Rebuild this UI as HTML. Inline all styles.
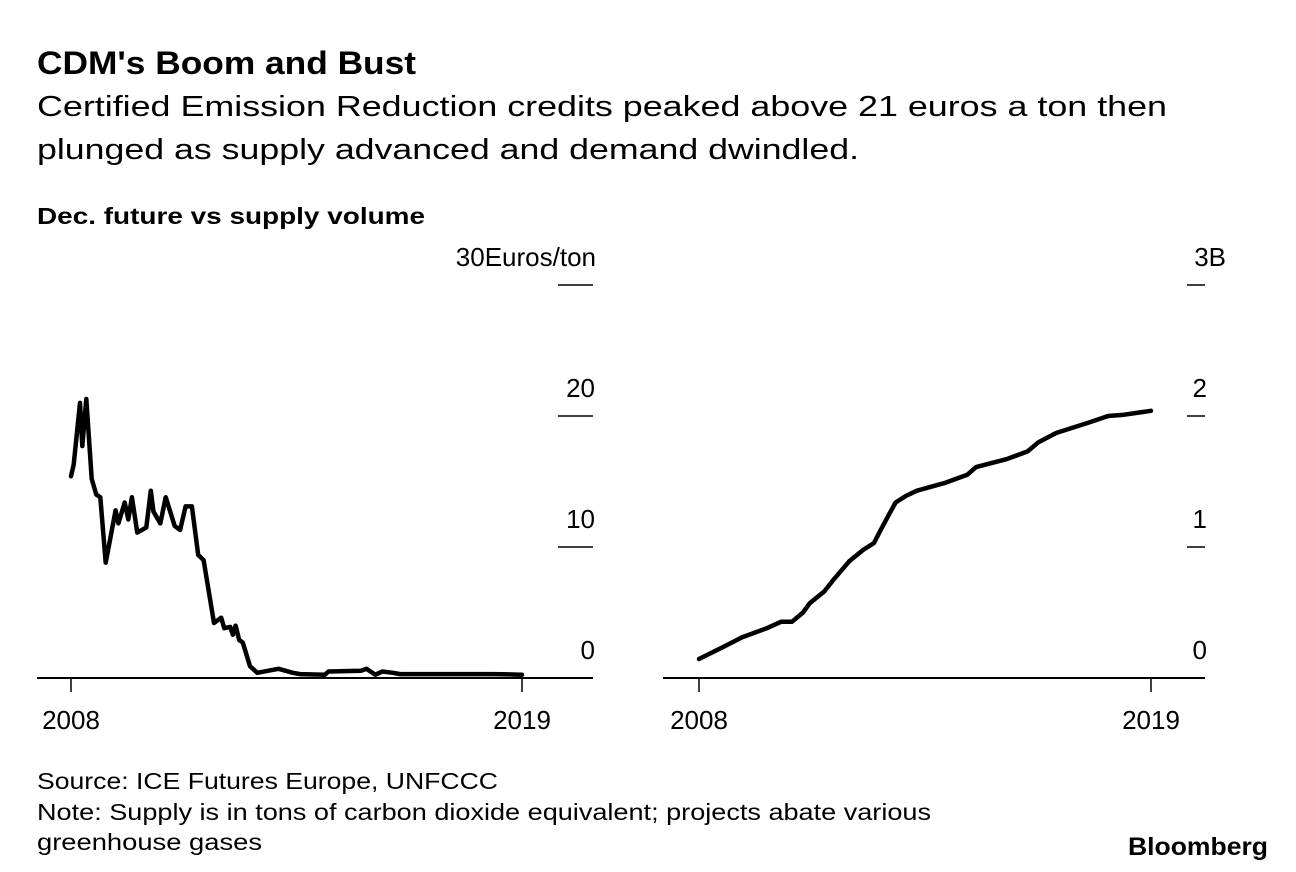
<!DOCTYPE html>
<html><head><meta charset="utf-8">
<style>
html,body{margin:0;padding:0;background:#fff;}
svg{display:block;font-family:"Liberation Sans",sans-serif;}
</style></head>
<body>
<svg id="chart" width="1296" height="872" viewBox="0 0 1296 872" xmlns="http://www.w3.org/2000/svg">
<rect width="1296" height="872" fill="#fff"/>
<text x="37" y="74" font-size="32" font-weight="bold" textLength="379" lengthAdjust="spacingAndGlyphs">CDM's Boom and Bust</text>
<text x="37" y="116" font-size="29" textLength="1130" lengthAdjust="spacingAndGlyphs">Certified Emission Reduction credits peaked above 21 euros a ton then</text>
<text x="37" y="159" font-size="29" textLength="822" lengthAdjust="spacingAndGlyphs">plunged as supply advanced and demand dwindled.</text>
<text x="37" y="224" font-size="23" font-weight="bold" textLength="388" lengthAdjust="spacingAndGlyphs">Dec. future vs supply volume</text>
<g id="left"></g>
<g id="right"></g>
<text x="37" y="789" font-size="23" textLength="461" lengthAdjust="spacingAndGlyphs">Source: ICE Futures Europe, UNFCCC</text>
<text x="37" y="820" font-size="23" textLength="894" lengthAdjust="spacingAndGlyphs">Note: Supply is in tons of carbon dioxide equivalent; projects abate various</text>
<text x="37" y="850" font-size="23" textLength="225" lengthAdjust="spacingAndGlyphs">greenhouse gases</text>
<text x="1128" y="855" font-size="25" font-weight="bold" textLength="140" lengthAdjust="spacingAndGlyphs">Bloomberg</text>
</svg>
<script>
// Left: Dec. future price (euros/ton); x as fraction of 2008..2019 period
const priceT = [0,0.006,0.02,0.025,0.034,0.046,0.056,0.065,0.077,0.099,0.105,0.119,0.127,0.135,0.147,0.167,0.177,0.183,0.198,0.21,0.23,0.242,0.254,0.268,0.282,0.294,0.317,0.333,0.34,0.353,0.359,0.365,0.373,0.381,0.397,0.413,0.46,0.492,0.508,0.563,0.571,0.643,0.655,0.675,0.69,0.714,0.73,0.873,0.937,1.0];
const priceV = [15.4,16.3,21.0,17.7,21.3,15.2,14.0,13.8,8.8,12.8,11.8,13.4,12.1,13.8,11.1,11.5,14.3,12.7,11.8,13.8,11.6,11.3,13.1,13.1,9.4,9.0,4.2,4.6,3.8,3.9,3.3,4.0,2.9,2.7,0.9,0.4,0.7,0.4,0.3,0.25,0.5,0.55,0.7,0.25,0.5,0.4,0.3,0.3,0.3,0.25];
// Right: cumulative supply (billion tons)
const supplyT = [0,0.055,0.095,0.15,0.182,0.206,0.23,0.245,0.277,0.3,0.332,0.364,0.387,0.399,0.419,0.435,0.458,0.482,0.545,0.593,0.613,0.68,0.727,0.751,0.79,0.862,0.905,0.941,1.0];
const supplyV = [0.145,0.24,0.31,0.38,0.43,0.43,0.5,0.57,0.66,0.76,0.89,0.98,1.03,1.11,1.24,1.34,1.39,1.43,1.49,1.55,1.61,1.67,1.73,1.8,1.87,1.95,2.0,2.01,2.04];
const priceTicks = ["0","10","20","30"];
const supplyTicks = ["0","1","2","3"];
const xTickLabels = ["2008","2019"];

const NS="http://www.w3.org/2000/svg";
function mk(parent,tag,attrs){const e=document.createElementNS(NS,tag);for(const k in attrs)e.setAttribute(k,attrs[k]);parent.appendChild(e);return e;}

function panel(g,o){
  const yScale=v=>678-v*o.pxPer;
  const xScale=t=>o.x0+t*(o.x1-o.x0);
  const ax=mk(g,'line',{x1:o.axL,x2:o.axR,y1:678,y2:678,stroke:'#000','stroke-width':2});
  
  
  [0,1].forEach(i=>{
    const x=i?o.x1:o.x0;
    const tk=mk(g,'line',{x1:x,x2:x,y1:678,y2:692,stroke:'#000','stroke-width':1.5});
    
    
    const lb=mk(g,'text',{x:x,y:729,'font-size':26,'text-anchor':'middle'});
    lb.textContent=xTickLabels[i];
    
    
  });
  o.ticks.forEach((t,i)=>{
    const y=yScale(i*o.step);
    if(i>0){
      const gl=mk(g,'line',{x1:o.tkL,x2:o.tkR,y1:y,y2:y,stroke:'#000','stroke-width':1.5});
      
      
    }
    const top=i===o.ticks.length-1;
    const lb=mk(g,'text',{x:top?o.topR:o.labR,y:y-19,'font-size':26,'text-anchor':'end'});
    lb.textContent=top?t+o.unit:t;
    
    
  });
  const d=o.t.map((t,i)=>(i?'L':'M')+xScale(t).toFixed(1)+','+yScale(o.v[i]).toFixed(1)).join(' ');
  const p=mk(g,'path',{d:d,fill:'none',stroke:'#000','stroke-width':4.5,'stroke-linejoin':'round','stroke-linecap':'round'});
  
  
}
panel(document.getElementById('left'),{x0:71,x1:522,axL:37,axR:593,tkL:558,tkR:593,labR:595,topR:596,pxPer:13.1,step:10,ticks:priceTicks,t:priceT,v:priceV,unit:'Euros/ton',name:'price-line'});
panel(document.getElementById('right'),{x0:699,x1:1151,axL:663,axR:1205,tkL:1187,tkR:1205,labR:1207,topR:1226,pxPer:131,step:1,ticks:supplyTicks,t:supplyT,v:supplyV,unit:'B',name:'supply-line'});
</script>
</body></html>
